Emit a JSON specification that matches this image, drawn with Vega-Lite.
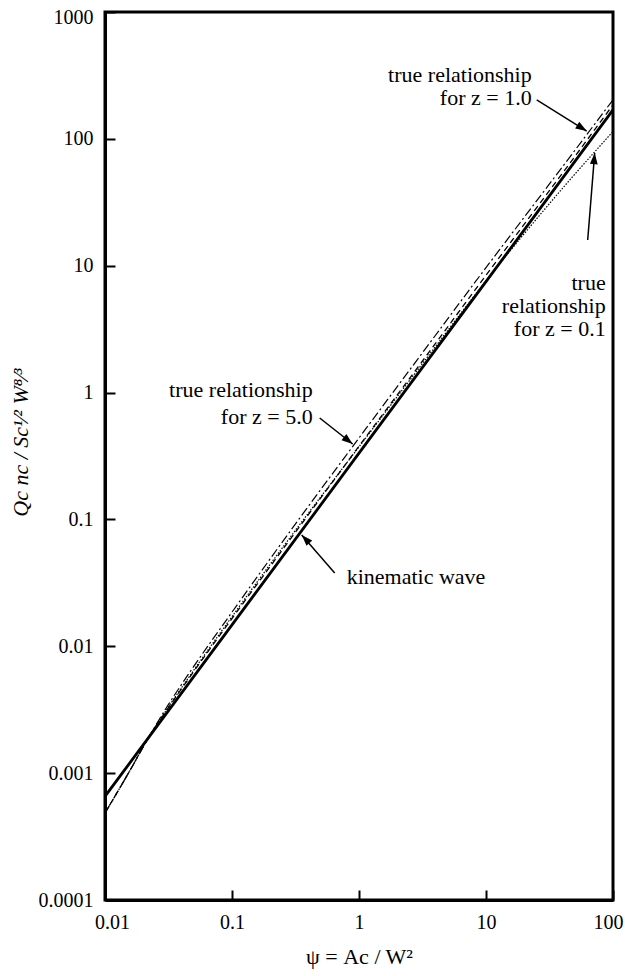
{
  "$schema": "https://vega.github.io/schema/vega-lite/v6.json",
  "width": 508,
  "height": 888,
  "autosize": {"type": "none"},
  "padding": {"left": 105, "top": 12, "right": 12, "bottom": 76},
  "background": "white",
  "config": {
    "view": {"stroke": "black", "strokeWidth": 3},
    "font": "Liberation Serif, Tinos, Times New Roman, DejaVu Serif, serif",
    "axis": {
      "domainColor": "black", "domainWidth": 3,
      "tickColor": "black", "tickWidth": 2, "tickSize": -10,
      "labelColor": "black", "labelFont": "Liberation Serif, Tinos, Times New Roman, DejaVu Serif, serif", "labelFontSize": 20,
      "titleColor": "black", "titleFont": "Liberation Serif, Tinos, Times New Roman, DejaVu Serif, serif", "titleFontSize": 22, "titleFontWeight": "normal",
      "grid": false
    }
  },
  "datasets": {
    "curves": [
      {"s": "kin", "x": 0.01, "y": 0.000655},
      {"s": "kin", "x": 0.1, "y": 0.01476},
      {"s": "kin", "x": 1, "y": 0.3327},
      {"s": "kin", "x": 10, "y": 7.499},
      {"s": "kin", "x": 100, "y": 169.0},
      {"s": "z5", "x": 0.01, "y": 0.000485},
      {"s": "z5", "x": 0.01585, "y": 0.001064},
      {"s": "z5", "x": 0.02188, "y": 0.001888},
      {"s": "z5", "x": 0.03162, "y": 0.003483},
      {"s": "z5", "x": 0.05012, "y": 0.006966},
      {"s": "z5", "x": 0.1, "y": 0.01858},
      {"s": "z5", "x": 0.3162, "y": 0.09226},
      {"s": "z5", "x": 1, "y": 0.4385},
      {"s": "z5", "x": 3.162, "y": 2.061},
      {"s": "z5", "x": 10, "y": 9.661},
      {"s": "z5", "x": 19.95, "y": 24.04},
      {"s": "z5", "x": 39.81, "y": 59.84},
      {"s": "z5", "x": 100, "y": 203.2},
      {"s": "z1", "x": 0.01, "y": 0.000485},
      {"s": "z1", "x": 0.01585, "y": 0.001064},
      {"s": "z1", "x": 0.02188, "y": 0.001888},
      {"s": "z1", "x": 0.03162, "y": 0.003289},
      {"s": "z1", "x": 0.05012, "y": 0.006353},
      {"s": "z1", "x": 0.1, "y": 0.01656},
      {"s": "z1", "x": 0.3162, "y": 0.07943},
      {"s": "z1", "x": 1, "y": 0.3776},
      {"s": "z1", "x": 3.162, "y": 1.774},
      {"s": "z1", "x": 10, "y": 8.414},
      {"s": "z1", "x": 19.95, "y": 21.18},
      {"s": "z1", "x": 39.81, "y": 53.33},
      {"s": "z1", "x": 100, "y": 185.4},
      {"s": "z01", "x": 0.01, "y": 0.000485},
      {"s": "z01", "x": 0.01585, "y": 0.001064},
      {"s": "z01", "x": 0.02188, "y": 0.001888},
      {"s": "z01", "x": 0.03162, "y": 0.003327},
      {"s": "z01", "x": 0.05012, "y": 0.006501},
      {"s": "z01", "x": 0.1, "y": 0.01714},
      {"s": "z01", "x": 0.3162, "y": 0.08222},
      {"s": "z01", "x": 1, "y": 0.3733},
      {"s": "z01", "x": 3.162, "y": 1.694},
      {"s": "z01", "x": 10, "y": 7.586},
      {"s": "z01", "x": 19.95, "y": 17.82},
      {"s": "z01", "x": 39.81, "y": 40.46},
      {"s": "z01", "x": 100, "y": 114.3}
    ],
    "arrows": [
      {"x": 25.07, "y": 202.5, "x2": 62.08, "y2": 115.3, "angle": 121.8},
      {"x": 63.22, "y": 15.95, "x2": 71.76, "y2": 77.33, "angle": 4.6},
      {"x": 0.4904, "y": 0.6302, "x2": 0.892, "y2": 0.3933, "angle": 128.2},
      {"x": 0.6437, "y": 0.03783, "x2": 0.3538, "y2": 0.0754, "angle": -43.3}
    ],
    "labelsRight": [
      {"x": 22.89, "y": 318.7, "t": "true relationship"},
      {"x": 22.89, "y": 210.0, "t": "for z = 1.0"},
      {"x": 87.6, "y": 7.309, "t": "true"},
      {"x": 87.6, "y": 4.814, "t": "relationship"},
      {"x": 87.6, "y": 3.171, "t": "for z = 0.1"},
      {"x": 0.4318, "y": 1.048, "t": "true relationship"},
      {"x": 0.4318, "y": 0.642, "t": "for z = 5.0"}
    ],
    "labelsLeft": [
      {"x": 0.8, "y": 0.03518, "t": "kinematic wave"}
    ]
  },
  "encoding": {
    "x": {"field": "x", "type": "quantitative",
      "scale": {"type": "log", "domain": [0.01, 100], "nice": false},
      "axis": {"values": [0.01, 0.1, 1, 10, 100], "format": ".2~f", "labelPadding": 22, "title": "ψ = Ac / W²", "titlePadding": 14, "labelFlush": false,
        "labelAlign": {"condition": {"test": "datum.value == 100", "value": "right"}, "value": "center"},
        "labelOffset": {"condition": [{"test": "datum.value == 100", "value": 10}, {"test": "datum.value == 0.01", "value": 7}], "value": 0}}},
    "y": {"field": "y", "type": "quantitative",
      "scale": {"type": "log", "domain": [0.0001, 1000], "nice": false},
      "axis": {"values": [0.0001, 0.001, 0.01, 0.1, 1, 10, 100, 1000], "format": ".4~f", "labelPadding": 22, "title": "Qc nc / Sc¹⁄² W⁸⁄³", "titleFontStyle": "italic", "titleX": -73, "titleY": 430, "labelFlush": false,
        "labelOffset": {"condition": {"test": "datum.value == 1000", "value": 5}, "value": 0}}}
  },
  "layer": [
    {"data": {"name": "curves"}, "transform": [{"filter": "datum.s == 'z01'"}],
      "mark": {"type": "line", "color": "black", "strokeWidth": 1.2, "strokeDash": [1.5, 1.5], "interpolate": "monotone"}},
    {"data": {"name": "curves"}, "transform": [{"filter": "datum.s == 'z1'"}],
      "mark": {"type": "line", "color": "black", "strokeWidth": 1.3, "strokeDash": [6, 4], "interpolate": "monotone"}},
    {"data": {"name": "curves"}, "transform": [{"filter": "datum.s == 'z5'"}],
      "mark": {"type": "line", "color": "black", "strokeWidth": 1.2, "strokeDash": [9, 3, 2, 3], "interpolate": "monotone"}},
    {"data": {"name": "curves"}, "transform": [{"filter": "datum.s == 'kin'"}],
      "mark": {"type": "line", "color": "black", "strokeWidth": 2.8}},
    {"data": {"name": "arrows"},
      "mark": {"type": "rule", "color": "black", "strokeWidth": 1.5},
      "encoding": {"x2": {"field": "x2"}, "y2": {"field": "y2"}}},
    {"data": {"name": "arrows"},
      "mark": {"type": "point", "shape": "M0,0L-0.35,1L0.35,1Z", "filled": true, "color": "black", "size": 500, "opacity": 1},
      "encoding": {"x": {"field": "x2", "type": "quantitative"}, "y": {"field": "y2", "type": "quantitative"}, "angle": {"field": "angle", "type": "quantitative", "scale": null}}},
    {"data": {"name": "labelsRight"},
      "mark": {"type": "text", "align": "right", "baseline": "middle", "font": "Liberation Serif, Tinos, Times New Roman, DejaVu Serif, serif", "fontSize": 22, "color": "black"},
      "encoding": {"text": {"field": "t"}}},
    {"data": {"name": "labelsLeft"},
      "mark": {"type": "text", "align": "left", "baseline": "middle", "font": "Liberation Serif, Tinos, Times New Roman, DejaVu Serif, serif", "fontSize": 22, "color": "black"},
      "encoding": {"text": {"field": "t"}}}
  ]
}
